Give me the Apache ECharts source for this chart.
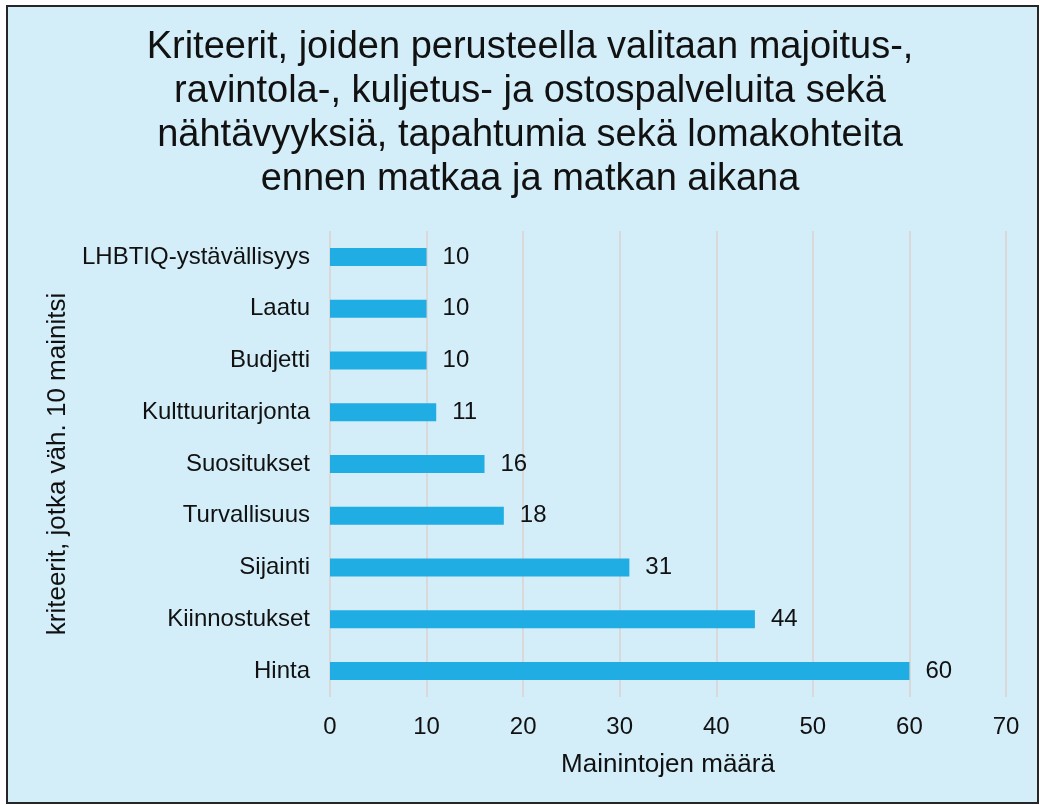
<!DOCTYPE html>
<html>
<head>
<meta charset="utf-8">
<script src="https://cdn.jsdelivr.net/npm/echarts@6/dist/echarts.min.js"></script>
<style>
  html, body { margin: 0; padding: 0; background: #ffffff; }
  #chart { width: 1040px; height: 805px; }
</style>
</head>
<body>
<div id="chart"></div>
<script>
var categories = ["Hinta", "Kiinnostukset", "Sijainti", "Turvallisuus", "Suositukset",
  "Kulttuuritarjonta", "Budjetti", "Laatu", "LHBTIQ-ystävällisyys"];
var mentions = [60, 44, 31, 18, 16, 11, 10, 10, 10];
var xTicks = [0, 10, 20, 30, 40, 50, 60, 70];

var titleText = "Kriteerit, joiden perusteella valitaan majoitus-,\nravintola-, kuljetus- ja ostospalveluita sekä\nnähtävyyksiä, tapahtumia sekä lomakohteita\nennen matkaa ja matkan aikana";

var myChart = echarts.init(document.getElementById("chart"));
var font = "Liberation Sans, Arial, sans-serif";
var option = {
  animation: false,
  backgroundColor: "#ffffff",
  graphic: [{
    type: "rect",
    z: -10,
    shape: { x: 7, y: 6, width: 1031, height: 797 },
    style: { fill: "#d4eef9", stroke: "#262626", lineWidth: 2 }
  }],
  title: {
    text: titleText,
    left: 530,
    textAlign: "center",
    top: 26,
    padding: 0,
    textStyle: {
      fontFamily: font,
      fontSize: 38,
      fontWeight: "normal",
      color: "#111",
      lineHeight: 44,
      align: "center"
    }
  },
  grid: {
    left: 330,
    right: 34,
    top: 231,
    bottom: 108,
    containLabel: false
  },
  xAxis: {
    type: "value",
    min: 0,
    max: 70,
    interval: 10,
    name: "Mainintojen määrä",
    nameLocation: "middle",
    nameGap: 55,
    nameTextStyle: { fontFamily: font, fontSize: 26, color: "#111" },
    axisLine: { show: false },
    axisTick: { show: false },
    axisLabel: {
      margin: 18,
      fontFamily: font,
      fontSize: 24,
      color: "#111",
      formatter: function (v) { return xTicks.indexOf(v) >= 0 ? String(v) : ""; }
    },
    splitLine: { show: true, lineStyle: { color: "#d9d9d9", width: 2 } }
  },
  yAxis: {
    type: "category",
    data: categories,
    name: "kriteerit, jotka väh. 10 mainitsi",
    nameLocation: "middle",
    nameGap: 258,
    nameRotate: 90,
    nameTextStyle: { fontFamily: font, fontSize: 26, color: "#111" },
    axisLine: { show: false },
    axisTick: { show: false },
    axisLabel: { margin: 20, fontFamily: font, fontSize: 24, color: "#111" },
    splitLine: { show: false }
  },
  series: [{
    type: "bar",
    data: mentions,
    barWidth: 18,
    itemStyle: { color: "#1fade4" },
    label: {
      show: true,
      position: "right",
      distance: 16,
      fontFamily: font,
      fontSize: 24,
      color: "#111"
    }
  }]
};
myChart.setOption(option);
</script>
</body>
</html>
